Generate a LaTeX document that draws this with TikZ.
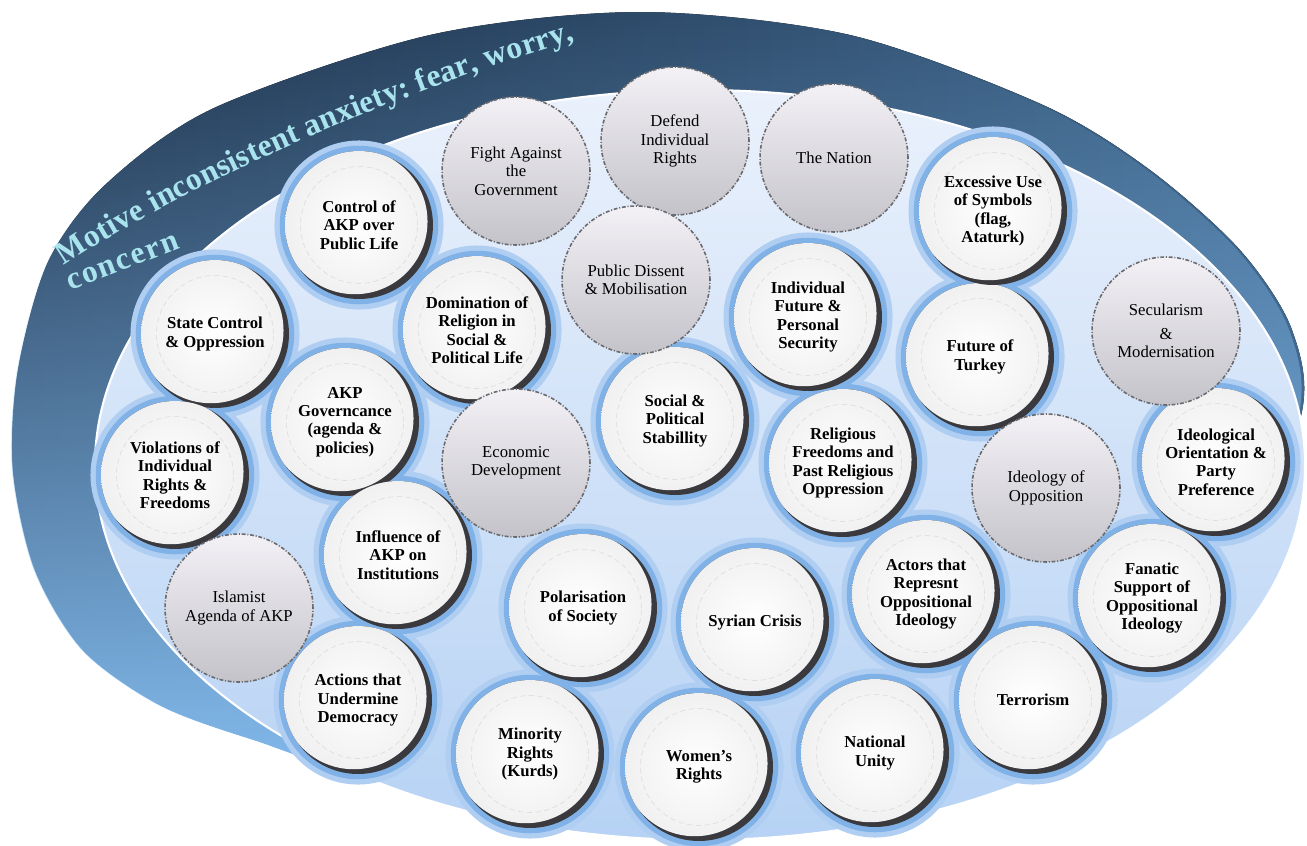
\documentclass[tikz,border=0pt]{standalone}
\usepackage{fontspec}
\setmainfont{Liberation Serif}
\usetikzlibrary{decorations.text,fadings,backgrounds}
\pgfdeclarelayer{ground}
\pgfsetlayers{ground,background,main}

\definecolor{bandnavy}{HTML}{1B2E46}
\definecolor{bandsteel}{HTML}{41698F}
\definecolor{bandlight}{HTML}{86BFF2}
\definecolor{laketop}{HTML}{EAF1FC}
\definecolor{lakebottom}{HTML}{B6D2F4}
\definecolor{glowblue}{HTML}{80B2E7}
\definecolor{glowpale}{HTML}{AFCEF1}
\definecolor{rimgrey}{HTML}{3A3A3E}
\definecolor{ghosttop}{HTML}{F3F1F6}
\definecolor{ghostbottom}{HTML}{C4C3C9}
\definecolor{ghostline}{HTML}{6A6A6E}
\definecolor{titlecyan}{HTML}{A9E4EE}

\tikzfading[name=fadelow, top color=transparent!100, middle color=transparent!100, bottom color=transparent!0]

\newcommand\titlefont{\fontsize{18}{18}\selectfont\bfseries\color{titlecyan}}

\tikzset{
  bubble/.style={circle, minimum size=2.96cm, inner sep=0pt, align=center,
    font=\fontsize{9.5}{10.5}\selectfont\bfseries, fill=rimgrey,
    path picture={
      \shade[inner color=white, outer color=gray!12]
        ([shift={(-2.4pt,2pt)}]path picture bounding box.center) circle (1.455cm);
      \draw[gray!30, densely dashed, line width=.3pt]
        (path picture bounding box.center) circle (1.17cm);
    }},
  ghost/.style={circle, minimum size=2.96cm, inner sep=0pt, align=center,
    font=\fontsize{9.5}{10.5}\selectfont, top color=ghosttop, bottom color=ghostbottom,
    draw=ghostline, line width=.9pt, dash pattern=on 2.2pt off 1pt on .6pt off 1pt},
}

\begin{document}
\begin{tikzpicture}[x=0.02cm, y=-0.02cm]
\useasboundingbox (0,0) rectangle (1307,845);

\begin{pgfonlayer}{ground}
  % dark band and the lake
  \def\bandpts{(1300,420) (1292,330) (1240,250) (1150,170) (1043,105) (850,35)
    (640,12) (430,35) (214,108) (105,185) (48,262) (18,370) (13,470) (35,570)
    (83,650) (160,705) (255,740) (380,775) (690,800) (1000,760) (1220,600)}
  \fill[left color=bandnavy, right color=bandsteel] plot[smooth cycle] coordinates {\bandpts};
  \fill[bandlight, path fading=fadelow] plot[smooth cycle] coordinates {\bandpts};
  \shade[top color=laketop, bottom color=lakebottom] (700,465) ellipse [x radius=605, y radius=375];
  \draw[white, line width=1.2pt] (700,465) ellipse [x radius=605, y radius=375];
\end{pgfonlayer}

\path[decorate, decoration={text along path, text align={fit to path},
    text={|\titlefont|Motive inconsistent anxiety: fear, worry,}}]
  (64,266) .. controls (180,188) and (385,96) .. (575,40);
\path[decorate, decoration={text along path, text align={fit to path},
    text={|\titlefont|concern}}]
  (70,290) .. controls (107,277) and (144,262) .. (181,248);

% anxieties
\node[bubble] (ctrl) at (359,225) {Control of\\AKP over\\Public Life};
\node[bubble] (statectl) at (215,334) {State Control\\\& Oppression};
\node[bubble] (religdom) at (477,330) {Domination of\\Religion in\\Social \&\\Political Life};
\node[bubble] (akpgov) at (345,422) {AKP\\Governcance\\(agenda \&\\policies)};
\node[bubble] (violations) at (175,475) {Violations of\\Individual\\Rights \&\\Freedoms};
\node[bubble] (influence) at (398,555) {Influence of\\AKP on\\Institutions};
\node[bubble] (actions) at (358,700) {Actions that\\Undermine\\Democracy};
\node[bubble] (minority) at (530,754) {Minority\\Rights\\(Kurds)};
\node[bubble] (women) at (699,767) {Women's\\Rights};
\node[bubble] (unity) at (875,753) {National\\Unity};
\node[bubble] (terror) at (1033,700) {Terrorism};
\node[bubble] (polar) at (583,608) {Polarisation\\of Society};
\node[bubble] (syria) at (755,622) {Syrian Crisis};
\node[bubble] (actors) at (926,594) {Actors that\\Represnt\\Oppositional\\Ideology};
\node[bubble] (fanatic) at (1152,598) {Fanatic\\Support of\\Oppositional\\Ideology};
\node[bubble] (ideolor) at (1216,462) {Ideological\\Orientation \&\\Party\\Preference};
\node[bubble] (stability) at (675,421) {Social \&\\Political\\Stabillity};
\node[bubble] (relfree) at (843,463) {Religious\\Freedoms and\\Past Religious\\Oppression};
\node[bubble] (indfuture) at (808,317) {Individual\\Future \&\\Personal\\Security};
\node[bubble] (futturkey) at (980,357) {Future of\\Turkey};
\node[bubble] (symbols) at (993,211) {Excessive Use\\of Symbols\\(flag,\\Ataturk)};

% grey ones
\node[ghost] (fight) at (516,171) {Fight Against\\the\\Government};
\node[ghost] (defend) at (675,141) {Defend\\Individual\\Rights};
\node[ghost] (nation) at (834,158) {The Nation};
\node[ghost] (dissent) at (636,280) {Public Dissent\\\& Mobilisation};
\node[ghost] (economy) at (516,463) {Economic\\Development};
\node[ghost] (islamist) at (239,608) {Islamist\\Agenda of AKP};
\node[ghost] (ideolopp) at (1046,488) {Ideology of\\Opposition};
\node[ghost] (secular) at (1166,331) {Secularism\\[3pt]\&\\Modernisation};

\begin{pgfonlayer}{background}
  \foreach \n in {ctrl,statectl,religdom,akpgov,violations,influence,actions,minority,
      women,unity,terror,polar,syria,actors,fanatic,ideolor,stability,relfree,
      indfuture,futturkey,symbols}
    \fill[glowpale] (\n.center) circle [radius=1.48cm+6pt];
  \foreach \n in {ctrl,statectl,religdom,akpgov,violations,influence,actions,minority,
      women,unity,terror,polar,syria,actors,fanatic,ideolor,stability,relfree,
      indfuture,futturkey,symbols}
    \fill[glowblue] (\n.center) circle [radius=1.48cm+3pt];
\end{pgfonlayer}
\end{tikzpicture}
\end{document}
